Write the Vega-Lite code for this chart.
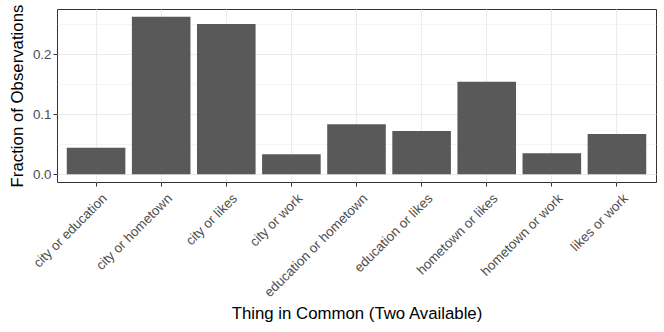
{
  "$schema": "https://vega.github.io/schema/vega-lite/v6.json",
  "autosize": "none",
  "padding": {"left": 57, "top": 9, "right": 8, "bottom": 150},
  "width": 599,
  "height": 173,
  "data": {"values": [
    {"pair": "city or education", "fraction": 0.044},
    {"pair": "city or hometown", "fraction": 0.262},
    {"pair": "city or likes", "fraction": 0.250},
    {"pair": "city or work", "fraction": 0.033},
    {"pair": "education or hometown", "fraction": 0.083},
    {"pair": "education or likes", "fraction": 0.072},
    {"pair": "hometown or likes", "fraction": 0.154},
    {"pair": "hometown or work", "fraction": 0.035},
    {"pair": "likes or work", "fraction": 0.067}
  ]},
  "config": {
    "font": "Liberation Sans",
    "view": {"stroke": "#333333", "strokeWidth": 1},
    "axis": {
      "domain": false,
      "gridColor": "#EBEBEB",
      "tickColor": "#333333",
      "tickSize": 4,
      "labelColor": "#4D4D4D",
      "labelFontSize": 13.4,
      "titleFontSize": 16.8,
      "titleFontWeight": "normal",
      "titleColor": "#000000"
    }
  },
  "mark": {"type": "bar", "color": "#595959"},
  "encoding": {
    "x": {
      "field": "pair",
      "type": "nominal",
      "title": "Thing in Common (Two Available)",
      "scale": {"paddingInner": 0.1, "paddingOuter": 0.15},
      "axis": {
        "grid": true,
        "bandPosition": 0.5,
        "labelAngle": -45,
        "labelAlign": "right",
        "labelBaseline": "top",
        "labelPadding": 5,
        "labelOffset": 4,
        "gridWidth": 1.1,
        "titlePadding": 7
      }
    },
    "y": {
      "field": "fraction",
      "type": "quantitative",
      "title": "Fraction of Observations",
      "scale": {"domain": [-0.0131, 0.2751], "nice": false, "zero": false},
      "axis": {
        "values": [0, 0.05, 0.1, 0.15, 0.2, 0.25],
        "labelExpr": "abs(datum.value * 10 - round(datum.value * 10)) > 0.01 ? '' : format(datum.value, '.1f')",
        "tickOpacity": {"condition": {"test": "abs(datum.value * 10 - round(datum.value * 10)) > 0.01", "value": 0}, "value": 1},
        "gridWidth": {"condition": {"test": "abs(datum.value * 10 - round(datum.value * 10)) > 0.01", "value": 0.55}, "value": 1.1},
        "labelPadding": 2,
        "titlePadding": 6
      }
    }
  }
}
